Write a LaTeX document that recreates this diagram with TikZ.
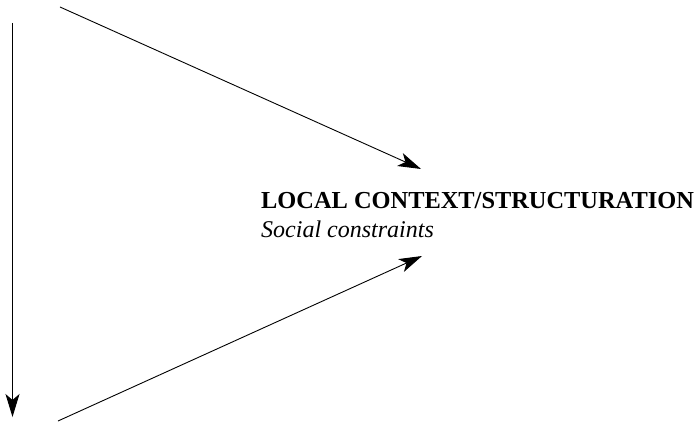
\documentclass[tikz,border=0pt]{standalone}
\usepackage{fontspec}
\setmainfont{Liberation Serif}
\usetikzlibrary{arrows.meta}
\begin{document}
\begin{tikzpicture}[x=1pt,y=-1pt,
  conn/.style={line width=0.9pt,-{Stealth[length=23pt,width=14pt,inset=6pt]}},
  title/.style={anchor=base west,inner sep=0pt,font=\fontsize{24.4}{28}\selectfont\bfseries},
  sub/.style={anchor=base west,inner sep=0pt,font=\fontsize{24}{28}\selectfont\itshape}]
\useasboundingbox (0,0) rectangle (700,422);
\coordinate (vtop) at (12.5,23);
\coordinate (vbot) at (12.5,417);
\coordinate (ts) at (60,7);
\coordinate (tt) at (421,169);
\coordinate (bs) at (58,421);
\coordinate (bt) at (422,256);
\node[title] (lc) at (261,208) {LOCAL CONTEXT/STRUCTURATION};
\node[sub] (sc) at (261,237) {Social constraints};
\draw[conn] (vtop) -- (vbot);
\draw[conn] (ts) -- (tt);
\draw[conn] (bs) -- (bt);
\end{tikzpicture}
\end{document}
